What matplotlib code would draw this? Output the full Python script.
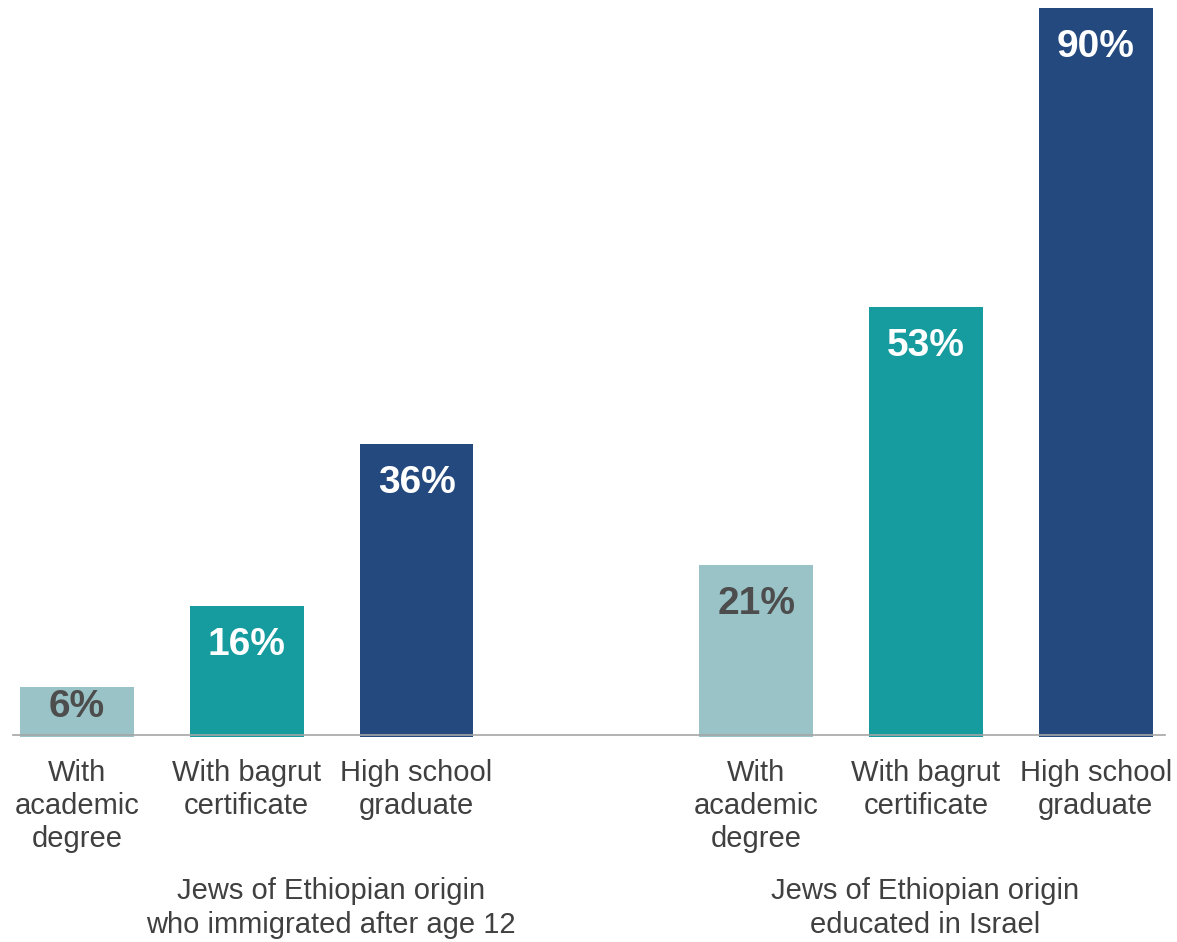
import matplotlib.pyplot as plt

plt.rcParams["font.family"] = ["Liberation Sans", "DejaVu Sans"]

categories = ["With\nacademic\ndegree", "With bagrut\ncertificate", "High school\ngraduate"]
groups = ["Jews of Ethiopian origin\nwho immigrated after age 12",
          "Jews of Ethiopian origin\neducated in Israel"]
immigrated = [6, 16, 36]
educated = [21, 53, 90]

colors = ["#9AC3C7", "#169B9E", "#23497E"]
label_colors = ["#4D4D4D", "white", "white"]

fig = plt.figure(figsize=(11.77, 9.42), dpi=100)
ax = fig.add_axes([0, 0, 1, 1])
ax.set_xlim(-0.4535, 6.478)
ax.set_ylim(-25.6, 90.97)
ax.axis("off")

xs = [0, 1, 2, 4, 5, 6]
vals = immigrated + educated
for i, (x, v) in enumerate(zip(xs, vals)):
    k = i % 3
    ax.bar(x, v + 0.25, bottom=-0.25, width=0.67, color=colors[k], zorder=2)
    off = min(4.8, v * 0.43)
    ax.text(x, v - off, f"{v}%", ha="center", va="center", fontsize=28,
            fontweight="bold", color=label_colors[k], zorder=3)
    ax.text(x, -2.9, categories[k], ha="center", va="top", fontsize=21,
            color="#404040", linespacing=1.24)

ax.axhline(0, xmin=0.011, xmax=0.990, color="#A6A6A6", lw=1.2, zorder=3)

for gx, g in zip([1.496, 4.994], groups):
    ax.text(gx, -17.6, g, ha="center", va="top", fontsize=21,
            color="#404040", linespacing=1.24)

fig.savefig("out.png", dpi=100)
